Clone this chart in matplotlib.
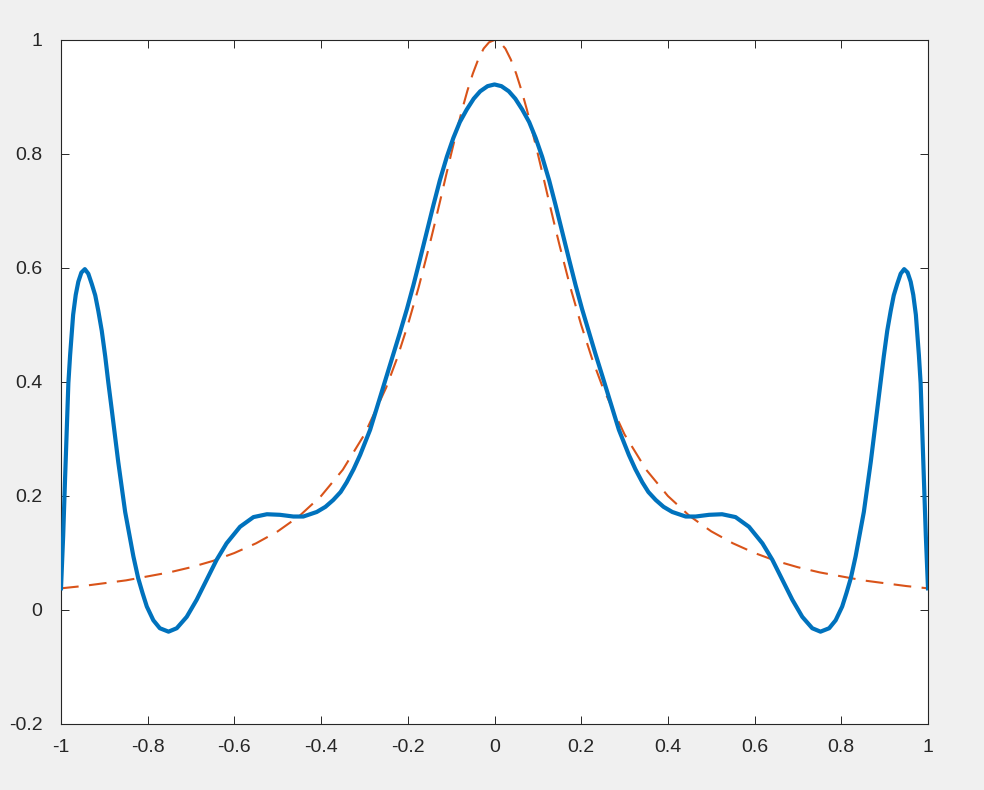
import matplotlib.pyplot as plt

# blue curve (left half, then right half)
x_fit = [-1.000, -0.995, -0.991, -0.986, -0.983, -0.979, -0.972, -0.966, -0.960, -0.953,
         -0.945, -0.937, -0.929, -0.921, -0.914, -0.906, -0.898, -0.891, -0.883, -0.868,
         -0.852, -0.833, -0.822, -0.812, -0.802, -0.787, -0.772, -0.752, -0.733, -0.710,
         -0.687, -0.664, -0.641, -0.618, -0.587, -0.556, -0.525, -0.495, -0.464, -0.441,
         -0.410, -0.390, -0.372, -0.355, -0.341, -0.325, -0.310, -0.287, -0.268, -0.249,
         -0.233, -0.218, -0.202, -0.187, -0.172, -0.156, -0.141, -0.126, -0.110, -0.095,
         -0.080, -0.064, -0.048, -0.033, -0.016, 0.000,
         0.016, 0.033, 0.048, 0.064, 0.080, 0.095, 0.110, 0.126, 0.141, 0.156,
         0.172, 0.187, 0.202, 0.218, 0.233, 0.249, 0.268, 0.287, 0.310, 0.325,
         0.341, 0.355, 0.372, 0.390, 0.410, 0.441, 0.464, 0.495, 0.525, 0.556,
         0.587, 0.618, 0.641, 0.664, 0.687, 0.710, 0.733, 0.752, 0.772, 0.787,
         0.802, 0.812, 0.822, 0.833, 0.852, 0.868, 0.883, 0.891, 0.898, 0.906,
         0.914, 0.921, 0.929, 0.937, 0.945, 0.953, 0.960, 0.966, 0.972, 0.979,
         0.983, 0.986, 0.991, 0.995, 1.000]
y_fit = [0.038, 0.130, 0.222, 0.330, 0.398, 0.447, 0.518, 0.553, 0.576, 0.592,
         0.598, 0.590, 0.572, 0.552, 0.525, 0.490, 0.445, 0.400, 0.352, 0.260,
         0.172, 0.094, 0.056, 0.030, 0.006, -0.018, -0.032, -0.038, -0.032, -0.012,
         0.018, 0.053, 0.088, 0.117, 0.146, 0.163, 0.168, 0.167, 0.164, 0.164,
         0.172, 0.181, 0.193, 0.207, 0.224, 0.247, 0.272, 0.316, 0.363, 0.410,
         0.449, 0.487, 0.528, 0.570, 0.615, 0.664, 0.710, 0.754, 0.795, 0.828,
         0.856, 0.878, 0.897, 0.910, 0.919, 0.922,
         0.919, 0.910, 0.897, 0.878, 0.856, 0.828, 0.795, 0.754, 0.710, 0.664,
         0.615, 0.570, 0.528, 0.487, 0.449, 0.410, 0.363, 0.316, 0.272, 0.247,
         0.224, 0.207, 0.193, 0.181, 0.172, 0.164, 0.164, 0.167, 0.168, 0.163,
         0.146, 0.117, 0.088, 0.053, 0.018, -0.012, -0.032, -0.038, -0.032, -0.018,
         0.006, 0.030, 0.056, 0.094, 0.172, 0.260, 0.352, 0.400, 0.445, 0.490,
         0.525, 0.552, 0.572, 0.590, 0.598, 0.592, 0.576, 0.553, 0.518, 0.447,
         0.398, 0.330, 0.222, 0.130, 0.038]

# red dashed curve
x_true = [-1.0, -0.95, -0.9, -0.85, -0.8, -0.75, -0.7, -0.65, -0.6, -0.55, -0.5, -0.45,
          -0.4, -0.35, -0.3, -0.25, -0.225, -0.2, -0.175, -0.15, -0.1375, -0.125, -0.1125,
          -0.1, -0.0875, -0.075, -0.0625, -0.05, -0.0375, -0.025, -0.0125,
          0.0, 0.0125, 0.025, 0.0375, 0.05, 0.0625, 0.075, 0.0875, 0.1, 0.1125,
          0.125, 0.1375, 0.15, 0.175, 0.2, 0.225, 0.25, 0.3, 0.35,
          0.4, 0.45, 0.5, 0.55, 0.6, 0.65, 0.7, 0.75, 0.8, 0.85, 0.9, 0.95, 1.0]
y_true = [0.038, 0.042, 0.047, 0.052, 0.059, 0.066, 0.075, 0.086, 0.100, 0.117, 0.138, 0.165,
          0.200, 0.246, 0.308, 0.390, 0.441, 0.500, 0.566, 0.640, 0.679, 0.719, 0.760,
          0.800, 0.839, 0.877, 0.911, 0.941, 0.966, 0.985, 0.996,
          1.000, 0.996, 0.985, 0.966, 0.941, 0.911, 0.877, 0.839, 0.800, 0.760,
          0.719, 0.679, 0.640, 0.566, 0.500, 0.441, 0.390, 0.308, 0.246,
          0.200, 0.165, 0.138, 0.117, 0.100, 0.086, 0.075, 0.066, 0.059, 0.052, 0.047, 0.042, 0.038]

xticks = [-1, -0.8, -0.6, -0.4, -0.2, 0, 0.2, 0.4, 0.6, 0.8, 1]
xlabels = ['-1', '-0.8', '-0.6', '-0.4', '-0.2', '0', '0.2', '0.4', '0.6', '0.8', '1']
yticks = [-0.2, 0, 0.2, 0.4, 0.6, 0.8, 1]
ylabels = ['-0.2', '0', '0.2', '0.4', '0.6', '0.8', '1']

plt.rcParams['font.family'] = ['Liberation Sans', 'DejaVu Sans']

fig = plt.figure(figsize=(9.84, 7.90), dpi=100, facecolor='#f0f0f0')
ax = fig.add_axes([61 / 984, 1 - 724 / 790, 867 / 984, 684 / 790])
ax.set_facecolor('white')

ax.plot(x_fit, y_fit, color='#0072bd', linewidth=3.0, solid_joinstyle='round', zorder=3)
ax.plot(x_true, y_true, color='#d95319', linewidth=1.5, dashes=(8.5, 5), zorder=2)

ax.set_xlim(-1, 1)
ax.set_ylim(-0.2, 1)
ax.set_xticks(xticks)
ax.set_xticklabels(xlabels)
ax.set_yticks(yticks)
ax.set_yticklabels(ylabels)
ax.tick_params(direction='in', top=True, right=True, length=6, width=0.7,
               colors='#262626', labelsize=14)
ax.tick_params(axis='x', pad=10.5)
ax.tick_params(axis='y', pad=13.5)
for s in ax.spines.values():
    s.set_color('#262626')
    s.set_linewidth(0.8)

fig.savefig('out.png', dpi=100, facecolor=fig.get_facecolor())
